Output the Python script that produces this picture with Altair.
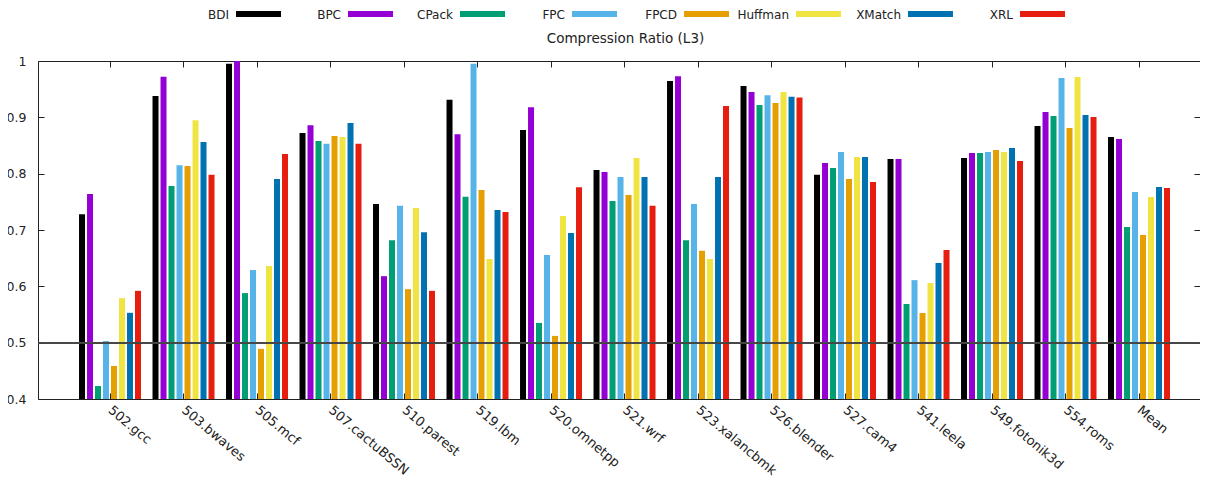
import altair as alt
import pandas as pd

benchmarks = ["502.gcc", "503.bwaves", "505.mcf", "507.cactuBSSN", "510.parest", "519.lbm",
              "520.omnetpp", "521.wrf", "523.xalancbmk", "526.blender", "527.cam4", "541.leela",
              "549.fotonik3d", "554.roms", "Mean"]
series = ["BDI", "BPC", "CPack", "FPC", "FPCD", "Huffman", "XMatch", "XRL"]
colors = ["#000000", "#9400d3", "#009e73", "#56b4e9", "#e69f00", "#f0e442", "#0072b2", "#e51e10"]

BDI = [0.728, 0.938, 0.995, 0.872, 0.746, 0.931, 0.8775, 0.8065, 0.9645, 0.9557, 0.798, 0.826, 0.828, 0.8846, 0.865]
BPC = [0.764, 0.972, 1.0, 0.886, 0.618, 0.870, 0.918, 0.803, 0.973, 0.945, 0.819, 0.826, 0.8367, 0.9095, 0.8616]
CPack = [0.423, 0.778, 0.588, 0.858, 0.682, 0.759, 0.535, 0.7515, 0.682, 0.922, 0.810, 0.5686, 0.8367, 0.9024, 0.7053]
FPC = [0.503, 0.815, 0.629, 0.853, 0.743, 0.995, 0.6556, 0.794, 0.746, 0.939, 0.8385, 0.611, 0.8385, 0.970, 0.7675]
FPCD = [0.4586, 0.8136, 0.489, 0.867, 0.595, 0.771, 0.512, 0.762, 0.663, 0.9255, 0.7906, 0.5527, 0.842, 0.881, 0.691]
Huffman = [0.579, 0.895, 0.636, 0.865, 0.739, 0.6485, 0.725, 0.828, 0.6485, 0.945, 0.8296, 0.606, 0.8385, 0.9716, 0.7586]
XMatch = [0.553, 0.856, 0.7906, 0.890, 0.696, 0.7355, 0.6947, 0.794, 0.794, 0.9366, 0.8296, 0.6414, 0.8456, 0.904, 0.7764]
XRL = [0.592, 0.798, 0.835, 0.853, 0.592, 0.732, 0.776, 0.743, 0.920, 0.935, 0.785, 0.6645, 0.8225, 0.9006, 0.7746]

y_ticks = [0.4, 0.5, 0.6, 0.7, 0.8, 0.9, 1.0]
title_text = "Compression Ratio (L3)"

values = dict(zip(series, [BDI, BPC, CPack, FPC, FPCD, Huffman, XMatch, XRL]))
rows = []
for s in series:
    for b, v in zip(benchmarks, values[s]):
        rows.append({"bench": b, "series": s, "value": v})
df = pd.DataFrame(rows)
legend_df = pd.DataFrame({"series": series})

FONT = "DejaVu Sans"
INK = "#222222"

xscale = alt.Scale(domain=benchmarks, paddingInner=0.1293, paddingOuter=0.4694, align=0.58)
yscale = alt.Scale(domain=[0.4, 1.0], nice=False, zero=False)
color = alt.Color("series:N", scale=alt.Scale(domain=series, range=colors), legend=None)

base = alt.Chart(df)

bars = base.mark_bar().encode(
    x=alt.X("bench:N", scale=xscale, sort=benchmarks,
            axis=alt.Axis(orient="bottom", labelAngle=40, labelAlign="left", labelBaseline="middle",
                          ticks=False, tickSize=0, domain=False, labelPadding=9, title=None,
                          labelFontSize=13)),
    xOffset=alt.XOffset("series:N", sort=series,
                        scale=alt.Scale(domain=series, paddingInner=0.25, paddingOuter=0.125)),
    y=alt.Y("value:Q", scale=yscale,
            axis=alt.Axis(orient="left", values=y_ticks, format=".1~f", ticks=False, tickSize=0,
                          domain=False, labelPadding=12, title=None, labelFontSize=12.5)),
    y2=alt.datum(0.4),
    color=color,
)

ref_line = alt.Chart(df).mark_rule(color="#4a4a4a", strokeWidth=1).encode(
    y=alt.Y(datum=0.5, axis=None)
)

ticks_a = base.mark_point(opacity=0).encode(
    x=alt.X("bench:N", sort=benchmarks,
            axis=alt.Axis(orient="top", offset=-6, tickSize=6, labels=False, domain=False,
                          title=title_text, titleX=587, titleY=-29, titleBaseline="middle",
                          titleAlign="center", titleAngle=0, titleFontSize=13.5,
                          titleFontWeight="normal")),
    y=alt.Y("value:Q", axis=alt.Axis(orient="right", offset=-6, tickSize=6, labels=False,
                                     domain=False, values=y_ticks, title=None)),
)

ticks_b = base.mark_point(opacity=0).encode(
    x=alt.X("bench:N", sort=benchmarks,
            axis=alt.Axis(orient="bottom", offset=-6, tickSize=6, labels=False, domain=False,
                          title=None)),
    y=alt.Y("value:Q", axis=alt.Axis(orient="left", offset=-6, tickSize=6, labels=False,
                                     domain=False, values=y_ticks, title=None)),
)

inner = alt.layer(bars, ref_line, ticks_a, ticks_b).resolve_axis(x="independent", y="independent")

lscale = alt.Scale(domain=series, paddingInner=0.598, paddingOuter=0, range=[198, 1027])
leg_base = alt.Chart(legend_df)
leg_swatch = leg_base.mark_bar().encode(
    x=alt.X("series:N", sort=series, scale=lscale, axis=None),
    y=alt.value(-50),
    y2=alt.value(-44),
    color=color,
)
leg_text = leg_base.mark_text(align="right", baseline="middle", dx=-29.5, fontSize=12,
                              font=FONT, color=INK).encode(
    x=alt.X("series:N", sort=series, scale=lscale, axis=None),
    y=alt.value(-46),
    text="series:N",
)
legend = alt.layer(leg_swatch, leg_text)

chart = alt.layer(inner, legend).resolve_scale(x="independent").properties(
    width=1162,
    height=338,
    autosize=alt.AutoSizeParams(type="none"),
    padding={"left": 30, "top": 53, "right": 0, "bottom": 80},
).configure(font=FONT).configure_view(
    stroke=INK, strokeWidth=1
).configure_axis(
    grid=False, labelFont=FONT, labelColor=INK, tickColor=INK, tickWidth=1,
    titleFont=FONT, titleColor=INK,
)

chart.save("out.html", embed_options={"renderer": "svg", "actions": False})
